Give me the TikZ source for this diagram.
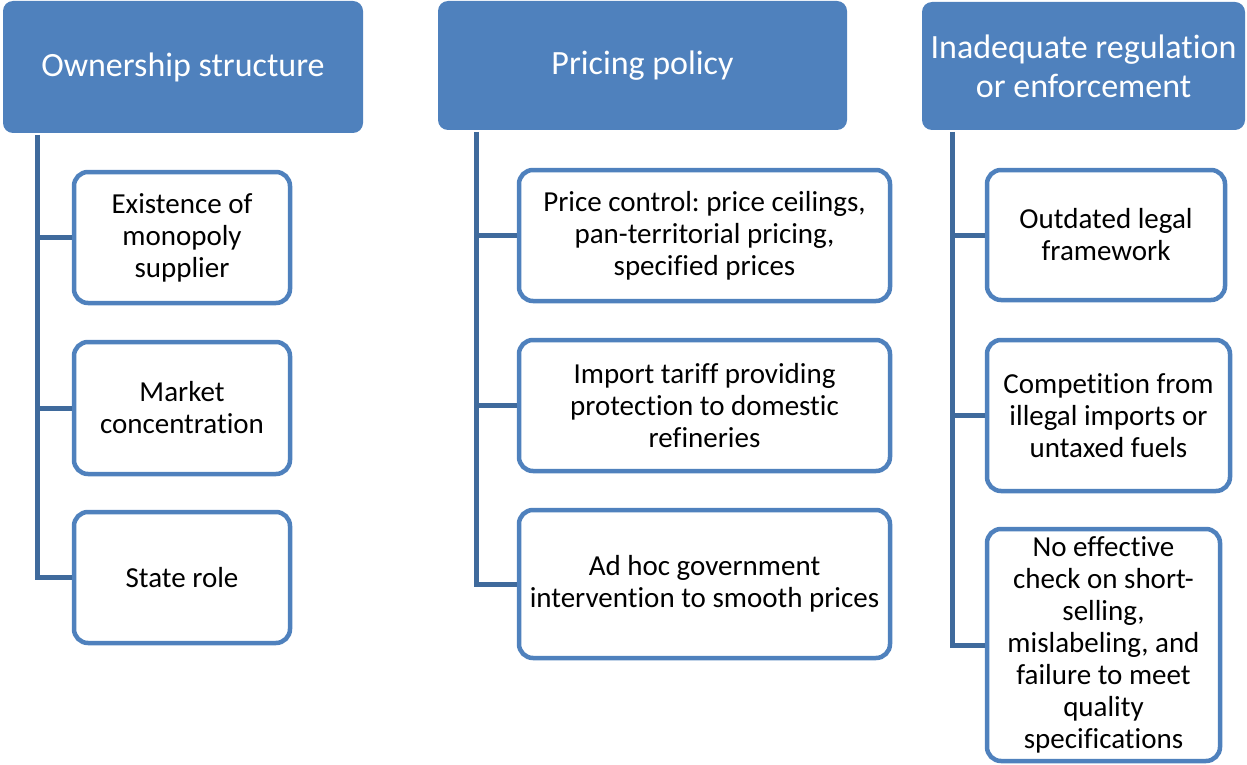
\documentclass[tikz,border=0pt]{standalone}
\usepackage{fontspec}
\setmainfont{Carlito}[RawFeature={-liga;-clig;-dlig;-calt}]
\definecolor{hdrblue}{HTML}{4F81BD}
\definecolor{lineblue}{HTML}{3F6A9C}
\frenchspacing
\begin{document}
\begin{tikzpicture}[x=1pt,y=-1pt,
  hdr/.style={fill=hdrblue,rounded corners=10pt,text=white,align=center,
    font=\fontsize{34}{39}\selectfont,inner sep=0pt},
  child/.style={draw=hdrblue,line width=4.5pt,fill=white,rounded corners=14pt,
    align=center,font=\fontsize{29}{32}\selectfont,inner sep=0pt},
  conn/.style={draw=lineblue,line width=5pt}]
\useasboundingbox (0,0) rectangle (1247,765);
% headers
\node[hdr,minimum width=360pt,minimum height=132pt] (h1) at (183,67) {Ownership structure};
\node[hdr,minimum width=409pt,minimum height=129pt] (h2) at (642.5,65.5) {Pricing policy};
\node[hdr,minimum width=323pt,minimum height=128pt] (h3) at (1083.5,66) {Inadequate regulation\\or enforcement};
% column 1
\node[child,minimum width=216pt,minimum height=131pt] (c11) at (182,237.5) {Existence of\\monopoly\\supplier};
\node[child,minimum width=216pt,minimum height=132pt] (c12) at (182,408) {Market\\concentration};
\node[child,minimum width=216pt,minimum height=131pt] (c13) at (182,577.5) {State role};
% column 2
\node[child,minimum width=371pt,minimum height=131pt] (c21) at (704.5,235.5) {Price control: price ceilings,\\pan-territorial pricing,\\specified prices};
\node[child,minimum width=371pt,minimum height=131pt] (c22) at (704.5,405.5) {Import tariff providing\\protection to domestic\\refineries};
\node[child,minimum width=371pt,minimum height=148pt] (c23) at (704.5,584) {Ad hoc government\\intervention to smooth prices};
% column 3
\node[child,minimum width=238pt,minimum height=130pt] (c31) at (1106,235) {Outdated legal\\framework};
\node[child,minimum width=243pt,minimum height=151pt] (c32) at (1108.5,415.5) {Competition from\\illegal imports or\\untaxed fuels};
\node[child,minimum width=233pt,minimum height=232pt] (c33) at (1103.5,645) {No effective\\check on short-\\selling,\\mislabeling, and\\failure to meet\\quality\\specifications};
% trunk coordinates
\coordinate (t1) at (37,135);
\coordinate (t2) at (476.5,132);
\coordinate (t3) at (952.5,132);
% connectors
\draw[conn] (t1) |- (c13.west);
\draw[conn] (t1 |- c11.west) -- (c11.west);
\draw[conn] (t1 |- c12.west) -- (c12.west);
\draw[conn] (t2) |- (c23.west);
\draw[conn] (t2 |- c21.west) -- (c21.west);
\draw[conn] (t2 |- c22.west) -- (c22.west);
\draw[conn] (t3) |- (c33.west);
\draw[conn] (t3 |- c31.west) -- (c31.west);
\draw[conn] (t3 |- c32.west) -- (c32.west);
\end{tikzpicture}
\end{document}
